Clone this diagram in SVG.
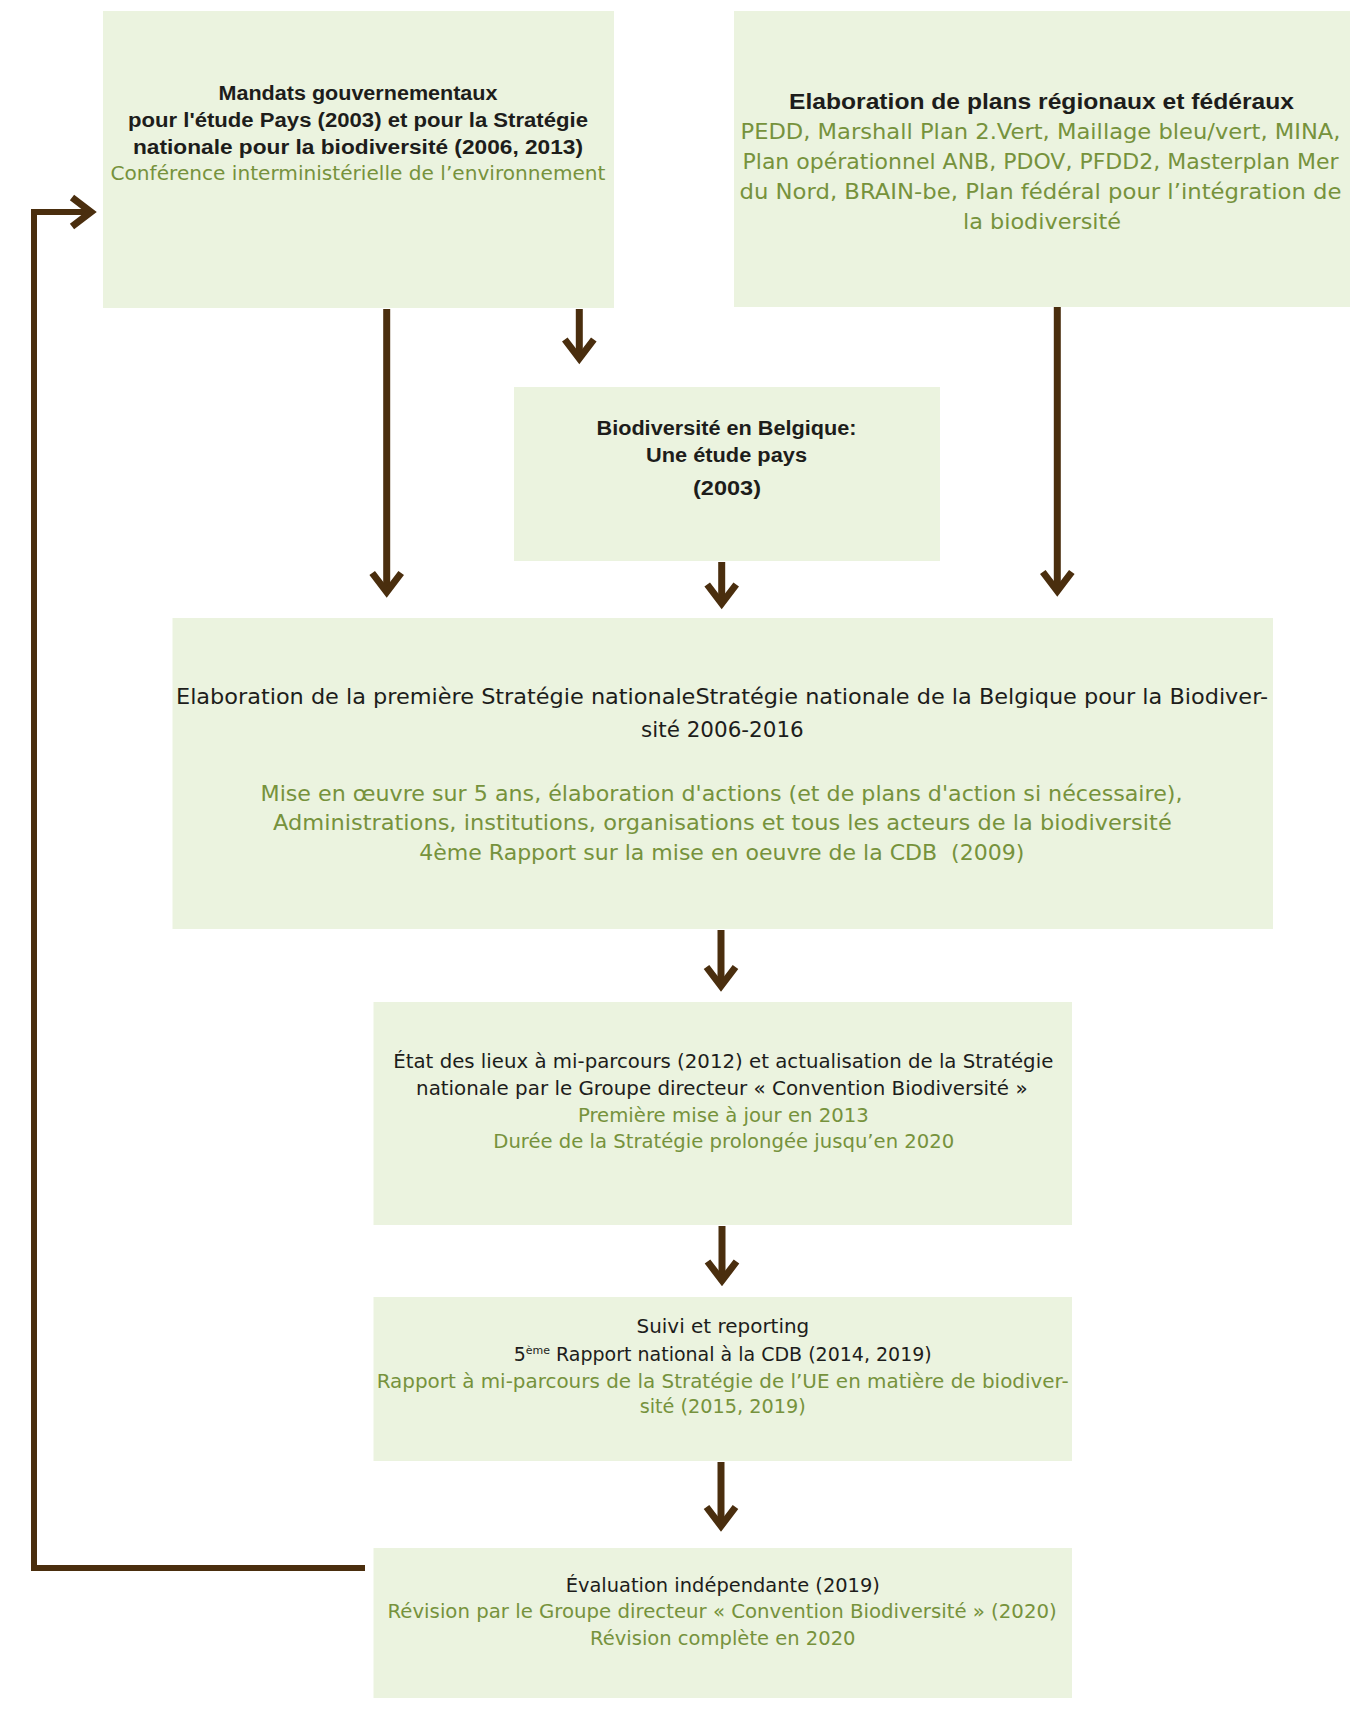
<svg xmlns="http://www.w3.org/2000/svg" width="1362" height="1711" viewBox="0 0 1362 1711">
<style>
.box{fill:#ebf3df;}
.t{font-family:"DejaVu Sans","Liberation Sans",sans-serif;text-anchor:middle;}
.k{fill:#1d1d1b;}
.g{fill:#76923c;}
.b{font-family:"Liberation Sans","DejaVu Sans",sans-serif;font-weight:bold;}
.s19{font-size:19px;}
.s21{font-size:21px;}
.con{fill:none;stroke:#4a2e0e;stroke-width:7;}
</style>
<defs>
<marker id="chev" markerUnits="userSpaceOnUse" viewBox="-25 -20 33 40" markerWidth="33" markerHeight="40" refX="0" refY="0" orient="auto" style="overflow:visible">
<path d="M-19,-14.5 L0,0 L-19,14.5" fill="none" stroke="#4a2e0e" stroke-width="7" stroke-linejoin="miter"/>
</marker>
</defs>
<rect width="1362" height="1711" fill="#ffffff"/>

<g id="connectors">
<path class="con" d="M386.7,309 V592" marker-end="url(#chev)"/>
<path class="con" d="M579.3,309 V358.5" marker-end="url(#chev)"/>
<path class="con" d="M1057.3,302 V591" marker-end="url(#chev)"/>
<path class="con" d="M721.7,562 V603.5" marker-end="url(#chev)"/>
<path class="con" d="M721,930 V986" marker-end="url(#chev)"/>
<path class="con" d="M722,1226 V1280.5" marker-end="url(#chev)"/>
<path class="con" d="M721,1462 V1526" marker-end="url(#chev)"/>
<path class="con" style="stroke-width:6" d="M365,1568 H34 V212 H91" marker-end="url(#chev)"/>
</g>

<g id="node-mandats">
<rect class="box" x="103" y="11" width="511" height="297"/>
<text class="t k b" style="font-size:20px" x="358" y="100" textLength="279" lengthAdjust="spacingAndGlyphs">Mandats gouvernementaux</text>
<text class="t k b" style="font-size:20px" x="358" y="127" textLength="460" lengthAdjust="spacingAndGlyphs">pour l'étude Pays (2003) et pour la Stratégie</text>
<text class="t k b" style="font-size:20px" x="358" y="154" textLength="450" lengthAdjust="spacingAndGlyphs">nationale pour la biodiversité (2006, 2013)</text>
<text class="t g s19" x="358" y="180" textLength="495" lengthAdjust="spacingAndGlyphs">Conférence interministérielle de l’environnement</text>
</g>

<g id="node-plans">
<rect class="box" x="734" y="11" width="616" height="296"/>
<text class="t k b" style="font-size:21.5px" x="1041.5" y="109" textLength="505" lengthAdjust="spacingAndGlyphs">Elaboration de plans régionaux et fédéraux</text>
<text class="t g s21" x="1040.5" y="138.5" textLength="600" lengthAdjust="spacingAndGlyphs">PEDD, Marshall Plan 2.Vert, Maillage bleu/vert, MINA,</text>
<text class="t g s21" x="1040.5" y="168.5" textLength="596" lengthAdjust="spacingAndGlyphs">Plan opérationnel ANB, PDOV, PFDD2, Masterplan Mer</text>
<text class="t g s21" x="1040.5" y="198.5" textLength="602" lengthAdjust="spacingAndGlyphs">du Nord, BRAIN-be, Plan fédéral pour l’intégration de</text>
<text class="t g s21" x="1042" y="228.5" textLength="158" lengthAdjust="spacingAndGlyphs">la biodiversité</text>
</g>

<g id="node-etude">
<rect class="box" x="514" y="387" width="426" height="174"/>
<text class="t k b" style="font-size:20px" x="726.5" y="435" textLength="260" lengthAdjust="spacingAndGlyphs">Biodiversité en Belgique:</text>
<text class="t k b" style="font-size:20px" x="726.5" y="461.5" textLength="161" lengthAdjust="spacingAndGlyphs">Une étude pays</text>
<text class="t k b" style="font-size:20px" x="727" y="495" textLength="68" lengthAdjust="spacingAndGlyphs">(2003)</text>
</g>

<g id="node-strategie">
<rect class="box" x="172.5" y="618" width="1100.5" height="311"/>
<text class="t k s21" x="722" y="704" textLength="1092" lengthAdjust="spacingAndGlyphs">Elaboration de la première Stratégie nationaleStratégie nationale de la Belgique pour la Biodiver-</text>
<text class="t k s21" x="722.4" y="737" textLength="162.7" lengthAdjust="spacingAndGlyphs">sité 2006-2016</text>
<text class="t g s21" x="721.5" y="800.5" textLength="922" lengthAdjust="spacingAndGlyphs">Mise en œuvre sur 5 ans, élaboration d'actions (et de plans d'action si nécessaire),</text>
<text class="t g s21" x="722.4" y="830.3" textLength="898.7" lengthAdjust="spacingAndGlyphs">Administrations, institutions, organisations et tous les acteurs de la biodiversité</text>
<text class="t g s21" x="721.8" y="860" textLength="605" lengthAdjust="spacingAndGlyphs" style="white-space:pre">4ème Rapport sur la mise en oeuvre de la CDB  (2009)</text>
</g>

<g id="node-etat-des-lieux">
<rect class="box" x="373.5" y="1002" width="698.5" height="223"/>
<text class="t k s19" x="723.3" y="1068.3" textLength="660" lengthAdjust="spacingAndGlyphs">État des lieux à mi-parcours (2012) et actualisation de la Stratégie</text>
<text class="t k s19" x="721.8" y="1095" textLength="611.5" lengthAdjust="spacingAndGlyphs">nationale par le Groupe directeur « Convention Biodiversité »</text>
<text class="t g s19" x="723.4" y="1121.7" textLength="291" lengthAdjust="spacingAndGlyphs">Première mise à jour en 2013</text>
<text class="t g s19" x="723.8" y="1148.3" textLength="461" lengthAdjust="spacingAndGlyphs">Durée de la Stratégie prolongée jusqu’en 2020</text>
</g>

<g id="node-suivi">
<rect class="box" x="373.5" y="1297" width="698.5" height="164"/>
<text class="t k s19" x="722.9" y="1333.3" textLength="172.8" lengthAdjust="spacingAndGlyphs">Suivi et reporting</text>
<text class="t k s19" x="722.7" y="1360.7">5<tspan style="font-size:11px" dy="-7">ème</tspan><tspan dy="7"> Rapport national à la CDB (2014, 2019)</tspan></text>
<text class="t g s19" x="722.7" y="1388.3" textLength="692" lengthAdjust="spacingAndGlyphs">Rapport à mi-parcours de la Stratégie de l’UE en matière de biodiver-</text>
<text class="t g s19" x="722.7" y="1412.7" textLength="166" lengthAdjust="spacingAndGlyphs">sité (2015, 2019)</text>
</g>

<g id="node-evaluation">
<rect class="box" x="373.5" y="1548" width="698.5" height="150"/>
<text class="t k s19" x="722.8" y="1591.7" textLength="314.3" lengthAdjust="spacingAndGlyphs">Évaluation indépendante (2019)</text>
<text class="t g s19" x="722.1" y="1618.3" textLength="669.2" lengthAdjust="spacingAndGlyphs">Révision par le Groupe directeur « Convention Biodiversité » (2020)</text>
<text class="t g s19" x="722.8" y="1645" textLength="265.5" lengthAdjust="spacingAndGlyphs">Révision complète en 2020</text>
</g>
</svg>
